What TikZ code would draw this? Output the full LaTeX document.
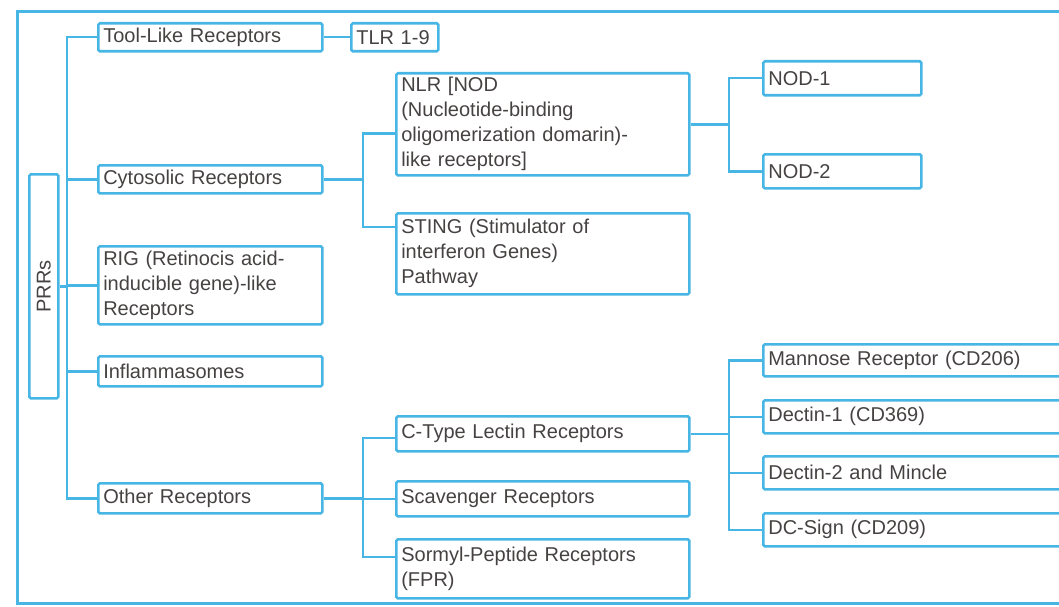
\documentclass[tikz,border=0pt]{standalone}
\usepackage{fontspec}
\setmainfont{Liberation Sans}
\usetikzlibrary{calc}
\definecolor{cb}{RGB}{72,182,228}
\definecolor{tc}{RGB}{70,66,66}
\tikzset{
  bx/.style={draw=cb, line width=2.6pt, rounded corners=1.5pt, anchor=north west,
    inner xsep=5pt, inner ysep=0pt, align=left, text=tc,
    font=\fontsize{20}{25}\selectfont},
  con/.style={draw=cb, line width=2.4pt},
  frame/.style={draw=cb, line width=3pt}
}
\begin{document}
\begin{tikzpicture}[x=1pt,y=-1pt]
\useasboundingbox (0,0) rectangle (1059,607);
\draw[frame] (17,12) rectangle (1080,603);

% root
\node[bx, minimum width=29pt, minimum height=224pt, inner xsep=0pt, align=center] (root) at (28,173) {\rotatebox{90}{PRRs}};

% level 1
\node[bx, minimum width=224pt, minimum height=28pt, text width=214pt] (toll) at (97,22) {Tool-Like Receptors};
\node[bx, minimum width=224pt, minimum height=28pt, text width=214pt] (cyto) at (97,164) {Cytosolic Receptors};
\node[bx, minimum width=224pt, minimum height=78pt, text width=214pt] (rig) at (97,245) {RIG (Retinocis acid-\\inducible gene)-like\\Receptors};
\node[bx, minimum width=224pt, minimum height=30pt, text width=214pt] (infl) at (97,355) {Inflammasomes};
\node[bx, minimum width=224pt, minimum height=30pt, text width=214pt] (other) at (97,482) {Other Receptors};

% level 2
\node[bx, minimum width=87pt, minimum height=28pt, text width=77pt] (tlr) at (350,22) {TLR 1-9};
\node[bx, minimum width=293pt, minimum height=102pt, text width=283pt] (nlr) at (395,72) {NLR [NOD\\(Nucleotide-binding\\oligomerization domarin)-\\like receptors]};
\node[bx, minimum width=293pt, minimum height=81pt, text width=283pt] (sting) at (395,212) {STING (Stimulator of\\interferon Genes)\\Pathway};
\node[bx, minimum width=293pt, minimum height=35pt, text width=283pt] (ctype) at (395,415) {C-Type Lectin Receptors};
\node[bx, minimum width=293pt, minimum height=35pt, text width=283pt] (scav) at (395,480) {Scavenger Receptors};
\node[bx, minimum width=293pt, minimum height=59pt, text width=283pt] (sormyl) at (395,538) {Sormyl-Peptide Receptors\\(FPR)};

% level 3
\node[bx, minimum width=158pt, minimum height=34pt, text width=148pt] (nod1) at (762,60) {NOD-1};
\node[bx, minimum width=158pt, minimum height=34pt, text width=148pt] (nod2) at (762,153) {NOD-2};
\node[bx, minimum width=310pt, minimum height=32pt, text width=300pt] (mann) at (762,343) {Mannose Receptor (CD206)};
\node[bx, minimum width=310pt, minimum height=33pt, text width=300pt] (dect1) at (762,399) {Dectin-1 (CD369)};
\node[bx, minimum width=310pt, minimum height=33pt, text width=300pt] (dect2) at (762,455) {Dectin-2 and Mincle};
\node[bx, minimum width=310pt, minimum height=33pt, text width=300pt] (dcsign) at (762,512) {DC-Sign (CD209)};

% junction columns
\coordinate (jt) at (67,0);
\coordinate (jc) at (363,0);
\coordinate (jn) at (729,0);
\coordinate (nlrin) at ($(nlr.west)+(0,9)$);
\coordinate (stingin) at ($(sting.west)+(0,-27)$);
\coordinate (ctypein) at ($(ctype.west)+(0,4)$);
\coordinate (sormylin) at ($(sormyl.west)+(0,-12)$);

% trunk
\draw[con] (toll.west) -- (toll.west -| jt) -- (other.west -| jt) -- (other.west);
\draw[con] (cyto.west) -- (cyto.west -| jt);
\draw[con] (rig.west) -- (rig.west -| jt);
\draw[con] (infl.west) -- (infl.west -| jt);
\draw[con] (root.east) -- (root.east -| jt);

% toll
\draw[con] (toll.east) -- (tlr.west);

% cytosolic
\draw[con] (cyto.east) -- (cyto.east -| jc);
\draw[con] (nlrin) -- (nlrin -| jc) -- (stingin -| jc) -- (stingin);

% nlr
\draw[con] (nlr.east) -- (nlr.east -| jn);
\draw[con] (nod1.west) -- (nod1.west -| jn) -- (nod2.west -| jn) -- (nod2.west);

% other
\draw[con] (other.east) -- (other.east -| jc);
\draw[con] (ctypein) -- (ctypein -| jc) -- (sormylin -| jc) -- (sormylin);
\draw[con] (scav.west) -- (scav.west -| jc);

% c-type
\draw[con] (ctype.east) -- (ctype.east -| jn);
\draw[con] (mann.west) -- (mann.west -| jn) -- (dcsign.west -| jn) -- (dcsign.west);
\draw[con] (dect1.west) -- (dect1.west -| jn);
\draw[con] (dect2.west) -- (dect2.west -| jn);
\end{tikzpicture}
\end{document}
